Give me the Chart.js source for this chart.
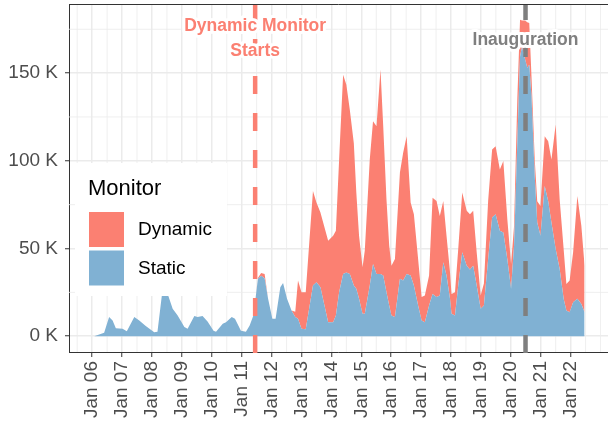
<!DOCTYPE html>
<html>
<head>
<meta charset="utf-8">
<script src="https://cdn.jsdelivr.net/npm/chart.js@4.4.1/dist/chart.umd.min.js"></script>
<style>
  html, body { margin: 0; padding: 0; background: #fff; }
  #wrap { width: 608px; height: 421px; }
</style>
</head>
<body>
<div id="wrap"><canvas id="chart" width="608" height="421"></canvas></div>
<script>
// x = months since Jan 2006, values in thousands
const monthX = [0.8, 4.8, 6.8, 8.2, 9.5, 12.2, 13.9, 16.9, 18.9, 21.5, 24.9, 26.2, 28.2, 30.3, 32.3, 34.3, 37, 38.3, 41, 42.3,
  44.3, 46.3, 48.7, 49.7, 52.4, 53.7, 56, 57.3, 59.7, 61.7, 63.2, 64.8, 66.5, 67.8, 69.2, 70.6, 72.3, 73.6, 75.5, 76.6,
  78.2, 80, 81.5, 82.6, 84, 85.7, 88.6, 90, 91.6, 94.7, 96.7, 97.8, 99.1, 100.7, 102, 103.4, 105, 106, 107.1, 108.5,
  109.4, 111.4, 112.7, 114.1, 115.7, 116.8, 118.1, 119.2, 120.1, 121.5, 123.5, 124.8, 126.2, 127.8, 129.1, 130.8, 132.2, 133.5, 135.2, 136.6,
  138.2, 139.5, 140.9, 142.2, 143.6, 144.2, 145.6, 146.9, 148.5, 150.3, 151.6, 152.9, 154.3, 155.9, 157.2, 158.9, 160.5, 161.9, 163.6, 165,
  166.6, 168.1, 169.3, 170.6, 171.7, 172.5, 173.7, 174.6, 175.4, 176.3, 177.6, 178.6, 179.9, 181.6, 183, 184.3, 186, 187.6, 189.2, 190.3,
  191.6, 193, 194.7, 196.3, 197.6];

const staticK = [0, 2, 10.9, 9, 4.6, 4.3, 2.8, 10.9, 9, 5.8, 2.3, 2.6, 26, 24, 15.6, 11.8, 5.2, 4.3, 11.5, 10.9,
  11.5, 8.4, 3.1, 2.6, 7.1, 8, 10.9, 10, 3.1, 2.6, 6.1, 12.2, 32.7, 34.5, 33, 21.3, 10, 10, 27.9, 30.4,
  21.3, 14.7, 11, 10, 4.3, 3.9, 28.9, 30.8, 27.9, 8, 8, 11.8, 25.1, 35.5, 36.3, 35.5, 28.9, 27, 21.3, 12.8,
  12.8, 28.9, 41.2, 35.5, 35.5, 34.6, 25.1, 17.5, 11.8, 10.9, 32.7, 31.8, 35.5, 34.6, 28.9, 17.5, 9, 8, 17.5, 24.1,
  22.3, 23.2, 42.1, 34.6, 21.3, 12.8, 11.8, 28.9, 47.8, 40.2, 38, 40.2, 28.9, 15.6, 17.5, 43.9, 67.7, 69.6, 60.1, 59.2,
  43.9, 27, 51.6, 110, 159.5, 165, 158, 153, 154.8, 136.8, 91.4, 64.9, 57.3, 85.7, 77, 64.9, 49.7, 38.3, 21.3, 14.7,
  13.7, 19.4, 21.3, 18.4, 13.7];

const dynamicK = [0, 0, 0, 0, 0, 0, 0, 0, 0, 0, 0, 0, 0, 0, 0, 0, 0, 0, 0, 0,
  0, 0, 0, 0, 0, 0, 0, 0, 0, 0, 0, 0, 0.5, 1.5, 2.5, 0, 0, 0, 0, 0,
  0, 0, 3, 21.7, 20.7, 21.1, 53.9, 45.4, 42.6, 46.4, 49.3, 48.3, 75.7, 113.5, 107.1, 93.5, 81.1, 55, 36, 26.5,
  36, 71.9, 81.4, 84.2, 116.5, 85.1, 53, 34.1, 28.4, 33.1, 60.6, 72.8, 78.5, 41.6, 40.7, 26.5, 13.3, 15.2, 17.1, 54.9,
  54.8, 45.4, 35, 22.7, 15.1, 11.3, 13.2, 20.8, 34.2, 31.3, 31.6, 31.3, 18.9, 7.6, 12.5, 33.2, 38.8, 38.7, 35, 40.7,
  22.8, 14.2, 11.3, 24.9, 20.9, 15, 22, 26, 23.7, 11.2, 9.4, 12.1, 17, 28.3, 34.2, 35.9, 71, 39.8, 28.4, 15.1,
  18, 28.4, 58.7, 44.6, 26.5];

const yearTicks = [0, 12, 24, 36, 48, 60, 72, 84, 96, 108, 120, 132, 144, 156, 168, 180, 192];
const yearLabels = ['Jan 06', 'Jan 07', 'Jan 08', 'Jan 09', 'Jan 10', 'Jan 11', 'Jan 12', 'Jan 13', 'Jan 14',
  'Jan 15', 'Jan 16', 'Jan 17', 'Jan 18', 'Jan 19', 'Jan 20', 'Jan 21', 'Jan 22'];
const minorMonths = [-6, 6, 18, 30, 42, 54, 66, 78, 90, 102, 114, 126, 138, 150, 162, 174, 186, 198, 204];
const valueTicks = [0, 50, 100, 150];
const valueLabels = ['0 K', '50 K', '100 K', '150 K'];
const minorValues = [25, 75, 125, 175];

const eventMonths = [65.4, 173.9];
const eventLabels = [['Dynamic Monitor', 'Starts'], ['Inauguration']];
const seriesNames = ['Dynamic', 'Static'];

if (staticK.length !== monthX.length || dynamicK.length !== monthX.length) {
  throw new Error('length mismatch ' + monthX.length + ' ' + staticK.length + ' ' + dynamicK.length);
}

const FONT = '"Liberation Sans", Arial, Helvetica, sans-serif';
const STATIC_COLOR = '#80B1D3';
const DYNAMIC_COLOR = '#FB8072';
const EVENT_COLORS = ['#FB8072', '#7F7F7F'];

// light minor grid, drawn under the areas
const minorGrid = {
  id: 'minorGrid',
  beforeDatasetsDraw(chart) {
    const { ctx, chartArea: a, scales: { x, y } } = chart;
    ctx.save();
    ctx.strokeStyle = '#EBEBEB';
    ctx.lineWidth = 0.8;
    ctx.beginPath();
    minorMonths.forEach((m) => {
      const px = x.getPixelForValue(m);
      ctx.moveTo(px, a.top);
      ctx.lineTo(px, a.bottom);
    });
    minorValues.forEach((v) => {
      const py = y.getPixelForValue(v);
      ctx.moveTo(a.left, py);
      ctx.lineTo(a.right, py);
    });
    ctx.stroke();
    ctx.restore();
  },
};

// event lines, their labels, the legend box and the top border
const overlay = {
  id: 'overlay',
  afterDatasetsDraw(chart) {
    const { ctx, chartArea: a, scales: { x } } = chart;
    ctx.save();

    eventMonths.forEach((m, i) => {
      const px = x.getPixelForValue(m);
      ctx.strokeStyle = EVENT_COLORS[i];
      ctx.lineWidth = 4.5;
      ctx.setLineDash([18, 19]);
      ctx.beginPath();
      ctx.moveTo(px, a.bottom + 1);
      ctx.lineTo(px, a.top);
      ctx.stroke();
    });
    ctx.setLineDash([]);

    ctx.font = 'bold 17.5px ' + FONT;
    ctx.textAlign = 'center';
    ctx.textBaseline = 'alphabetic';
    ctx.lineJoin = 'round';
    const baselines = [[27, 52], [40.5]];
    eventMonths.forEach((m, i) => {
      const px = x.getPixelForValue(m);
      eventLabels[i].forEach((txt, j) => {
        const py = a.top + baselines[i][j];
        ctx.strokeStyle = '#fff';
        ctx.lineWidth = 6;
        ctx.strokeText(txt, px, py);
        ctx.fillStyle = EVENT_COLORS[i];
        ctx.fillText(txt, px, py);
      });
    });

    // legend
    ctx.fillStyle = '#fff';
    ctx.fillRect(75, 163, 152, 133);
    ctx.fillStyle = '#000';
    ctx.textAlign = 'left';
    ctx.font = '22px ' + FONT;
    ctx.fillText('Monitor', 88, 195);
    ctx.font = '19px ' + FONT;
    ctx.textBaseline = 'middle';
    [DYNAMIC_COLOR, STATIC_COLOR].forEach((c, i) => {
      const top = 212 + i * 38.5;
      ctx.fillStyle = c;
      ctx.fillRect(89, top, 35, 35);
      ctx.fillStyle = '#000';
      ctx.fillText(seriesNames[i], 138, top + 18);
    });

    // top border of the panel
    ctx.strokeStyle = '#333333';
    ctx.lineWidth = 1;
    ctx.beginPath();
    ctx.moveTo(a.left, a.top + 0.5);
    ctx.lineTo(a.right, a.top + 0.5);
    ctx.stroke();
    ctx.restore();
  },
};

const ctx = document.getElementById('chart').getContext('2d');
new Chart(ctx, {
  type: 'line',
  data: {
    datasets: [
      {
        label: 'Static',
        data: monthX.map((m, i) => ({ x: m, y: staticK[i] })),
        backgroundColor: STATIC_COLOR,
        borderColor: 'transparent',
        borderWidth: 0,
        pointRadius: 0,
        tension: 0,
        fill: 'origin',
      },
      {
        label: 'Dynamic',
        data: monthX.map((m, i) => ({ x: m, y: dynamicK[i] })),
        backgroundColor: DYNAMIC_COLOR,
        borderColor: 'transparent',
        borderWidth: 0,
        pointRadius: 0,
        tension: 0,
        fill: '-1',
      },
    ],
  },
  options: {
    responsive: false,
    animation: false,
    events: [],
    layout: { padding: { top: 4, right: 0, bottom: 0, left: 0 } },
    plugins: {
      legend: { display: false },
      tooltip: { enabled: false },
    },
    scales: {
      x: {
        type: 'linear',
        min: -9.3,
        max: 207,
        afterBuildTicks: (s) => { s.ticks = yearTicks.map((v) => ({ value: v })); },
        afterFit: (s) => { s.height = 69; s.paddingLeft = 0; s.paddingRight = 0; },
        grid: { color: '#EBEBEB', lineWidth: 1.5, tickColor: '#333333', tickLength: 5, tickWidth: 1 },
        border: { color: '#333333', width: 1 },
        ticks: {
          autoSkip: false,
          minRotation: 90,
          maxRotation: 90,
          padding: 4,
          color: '#4D4D4D',
          font: { size: 19, family: FONT },
          callback: (v, i) => yearLabels[i],
        },
      },
      y: {
        stacked: true,
        min: -9,
        max: 189.4,
        afterBuildTicks: (s) => { s.ticks = valueTicks.map((v) => ({ value: v })); },
        afterFit: (s) => { s.width = 69; s.paddingTop = 0; s.paddingBottom = 0; },
        grid: { color: '#EBEBEB', lineWidth: 1.5, tickColor: '#333333', tickLength: 4, tickWidth: 1 },
        border: { color: '#333333', width: 1 },
        ticks: {
          padding: 7,
          color: '#4D4D4D',
          font: { size: 19, family: FONT },
          callback: (v, i) => valueLabels[i],
        },
      },
    },
  },
  plugins: [minorGrid, overlay],
});
</script>
</body>
</html>
